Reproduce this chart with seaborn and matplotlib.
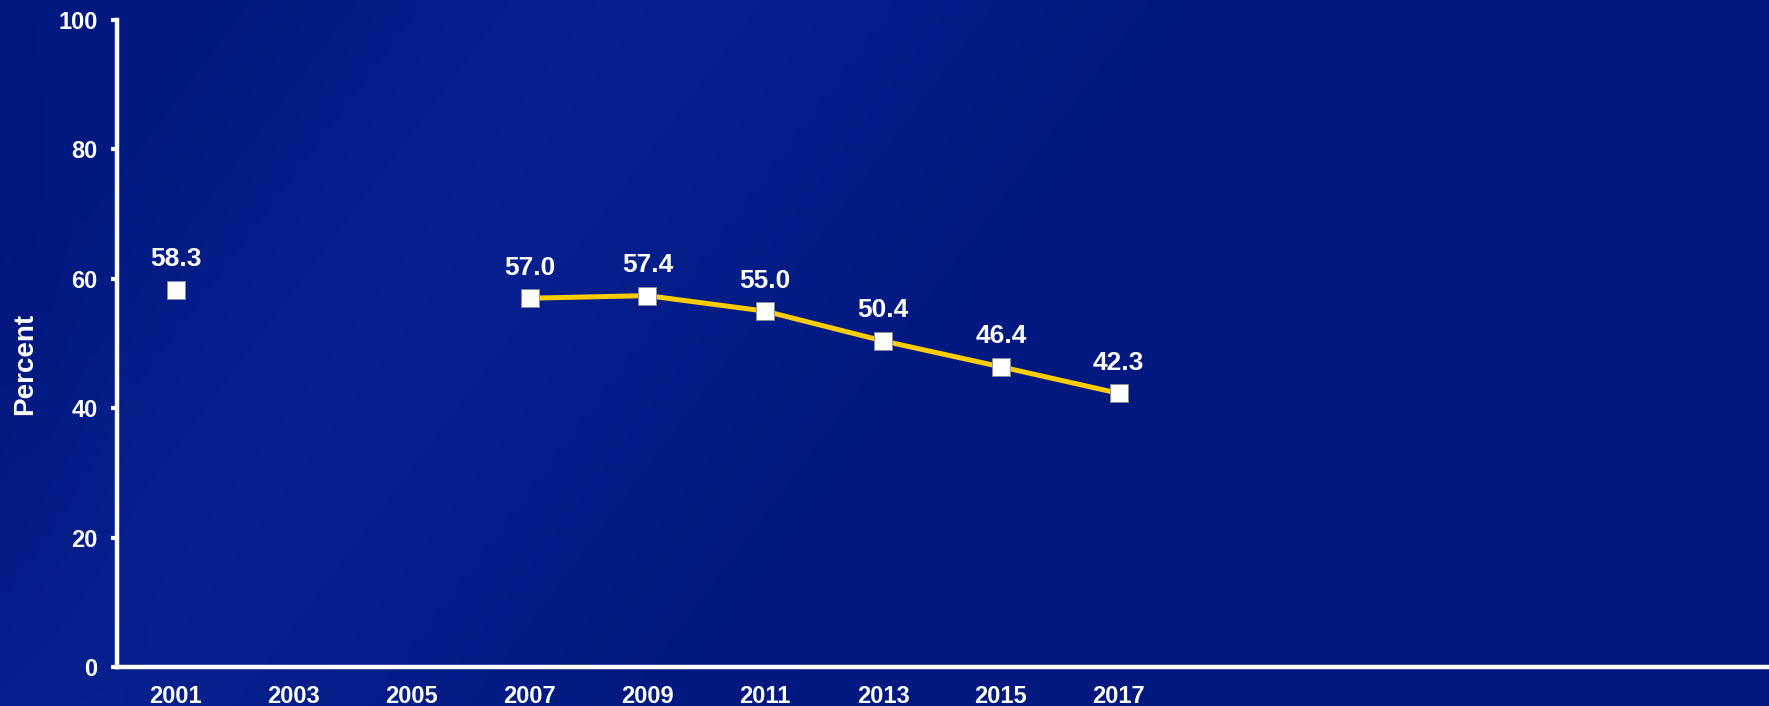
import numpy as np
import pandas as pd
import matplotlib
matplotlib.use("Agg")
import matplotlib.pyplot as plt
import seaborn as sns

# ---- data ----
years = ["2001", "2003", "2005", "2007", "2009", "2011", "2013", "2015", "2017"]
values = [58.3, np.nan, np.nan, 57.0, 57.4, 55.0, 50.4, 46.4, 42.3]
n_slots = 14  # category slots on the x axis (only first 9 labelled)
y_ticks = [0, 20, 40, 60, 80, 100]
y_label = "Percent"

sns.set_theme(style="white")
plt.rcParams["font.family"] = ["Liberation Sans", "DejaVu Sans"]
plt.rcParams["font.weight"] = "bold"

W, H = 1769, 706
fig = plt.figure(figsize=(W / 100, H / 100), dpi=100)

# background gradient (style only)
bg = fig.add_axes([0, 0, 1, 1], zorder=-10)
yy, xx = np.mgrid[0:H:2, 0:W:2]
d = (xx + 0.75 * yy) / W  # diagonal coordinate
band = np.exp(-((d - 0.42) / 0.18) ** 2) * 0.5 + np.exp(-((d - 0.30) / 0.12) ** 2) * 0.3
dark_left = np.clip(1 - (xx + 0.2 * (H - yy)) / 180, 0, 1) * (1 - yy / H)
img = np.zeros(xx.shape + (3,))
img[..., 0] = 0.0 + 0.04 * band + 0.02 * dark_left
img[..., 1] = 0.095 + 0.045 * band - 0.02 * dark_left
img[..., 2] = 0.50 + 0.08 * band - 0.02 * dark_left
img = np.clip(img, 0, 1)
bg.imshow(img, aspect="auto", extent=[0, 1, 0, 1], origin="upper", interpolation="bilinear")
bg.axis("off")
bg.set_xlim(0, 1); bg.set_ylim(0, 1)

ax = fig.add_axes([117 / W, 1 - 667 / H, (1767 - 117) / W, (667 - 20) / H])
ax.patch.set_alpha(0)

df = pd.DataFrame({"x": np.arange(len(years)), "year": years, "value": values})
df["segment"] = df["value"].isna().cumsum()
dfl = df.dropna()

sns.lineplot(data=dfl, x="x", y="value", units="segment", estimator=None,
             color="#FFCC00", linewidth=3.6, ax=ax, legend=False, zorder=2)
sns.scatterplot(data=dfl, x="x", y="value", marker="s", s=160, color="white",
                edgecolor="#8a8a9a", linewidth=0.6, ax=ax, legend=False, zorder=3)

for xi, v in zip(dfl["x"], dfl["value"]):
    ax.annotate(f"{v:.1f}", (xi, v), xytext=(0, 22), textcoords="offset points",
                ha="center", va="center", color="white", fontsize=19, fontweight="bold")

ax.set_xlim(-0.5, n_slots - 0.5)
ax.set_ylim(0, 100)
ax.set_xticks(np.arange(len(years)))
ax.set_xticklabels(years)
ax.set_yticks(y_ticks)
ax.set_xlabel("")
ax.set_ylabel("")
fig.text(25 / W, 1 - 364 / H, y_label, rotation=90, ha="center", va="center",
         color="white", fontsize=20, fontweight="bold")

for s in ["top", "right"]:
    ax.spines[s].set_visible(False)
for s in ["left", "bottom"]:
    ax.spines[s].set_color("white")
    ax.spines[s].set_linewidth(3.2)

ax.tick_params(axis="y", colors="white", labelsize=17, length=4, width=3, pad=10, left=True, direction="out")
ax.tick_params(axis="x", colors="white", labelsize=17, length=0, pad=13, bottom=False)
for lab in ax.get_xticklabels() + ax.get_yticklabels():
    lab.set_fontweight("bold")
    lab.set_color("white")

fig.savefig("out.png", dpi=100)
